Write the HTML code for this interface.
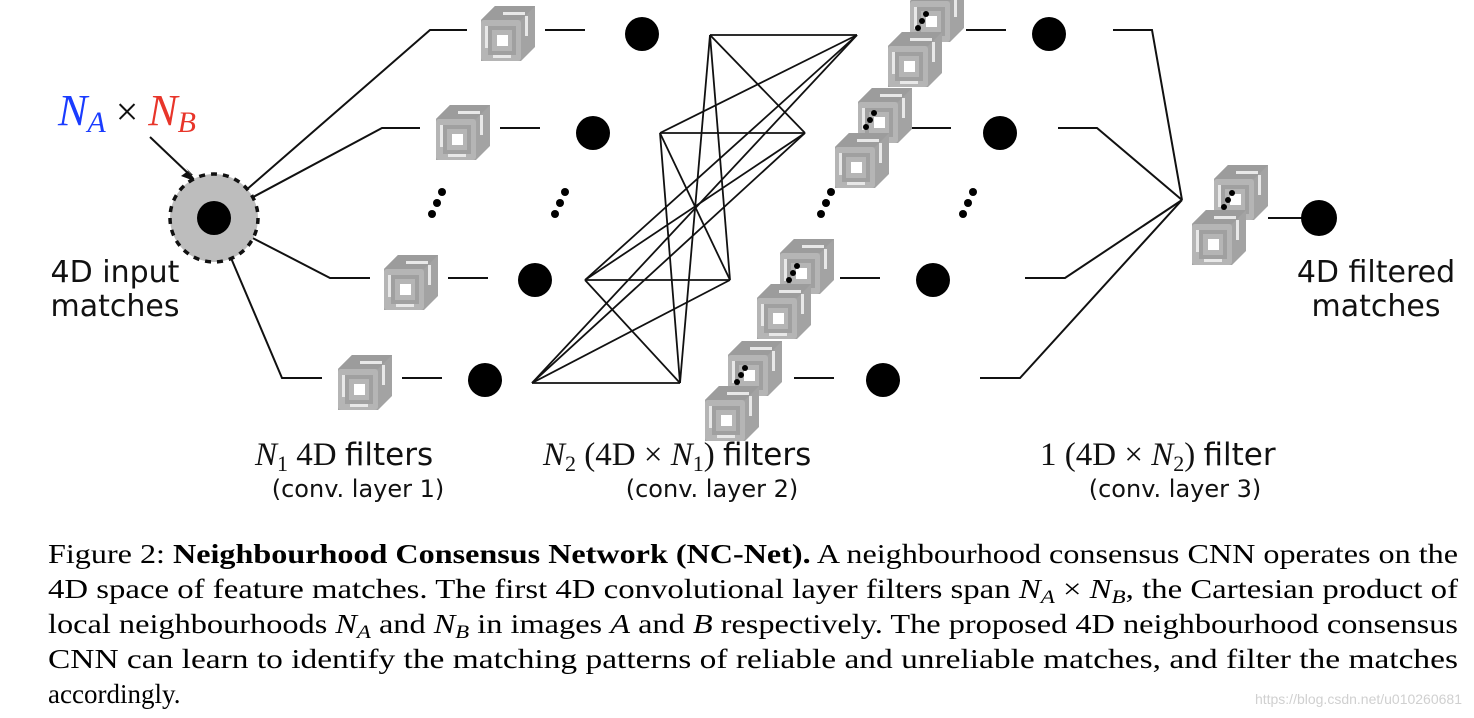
<!DOCTYPE html>
<html><head><meta charset="utf-8"><style>
html,body{margin:0;padding:0;background:#fff;}
svg{display:block}
</style></head><body>
<svg width="1474" height="718" viewBox="0 0 1474 718" xmlns="http://www.w3.org/2000/svg">
<defs>
<g id="cube">
  <polygon points="0,14 14,0 54,0 54,41 40,55 0,55" fill="#a3a3a3"/>
  <polygon points="0,14 14,0 54,0 40,14" fill="#9c9c9c"/>
  <rect x="0" y="14" width="40" height="41" rx="3" fill="#b5b5b5"/>
  <rect x="9" y="22" width="24" height="25" fill="none" stroke="#a0a0a0" stroke-width="4"/>
  <rect x="16" y="29" width="11" height="11" fill="#fff"/>
  <rect x="22" y="6" width="22" height="3" fill="#e8e8e8"/>
  <rect x="44" y="10" width="3" height="20" fill="#e8e8e8"/>
  <rect x="12" y="49" width="18" height="3" fill="#e8e8e8"/>
  <rect x="4" y="20" width="3" height="22" fill="#e8e8e8"/>
</g>
<g id="vd"><circle cx="5" cy="-11" r="4"/><circle cx="0" cy="0" r="4"/><circle cx="-5" cy="11" r="4"/></g>
<g id="sd"><circle cx="4" cy="-7" r="3"/><circle cx="0" cy="0" r="3"/><circle cx="-4" cy="7" r="3"/></g>
</defs>

<g stroke="#111" stroke-width="2" fill="none">
  <polyline points="214,218 430,30 467,30"/>
  <polyline points="214,218 382,128 420,128"/>
  <polyline points="214,218 330,278 370,278"/>
  <polyline points="214,218 282,378 322,378"/>
  <line x1="545" y1="30" x2="585" y2="30"/>
  <line x1="500" y1="128" x2="540" y2="128"/>
  <line x1="448" y1="278" x2="488" y2="278"/>
  <line x1="402" y1="378" x2="442" y2="378"/>
  <g stroke-width="1.8">
    <line x1="710" y1="35" x2="857" y2="35"/><line x1="710" y1="35" x2="805" y2="133"/><line x1="710" y1="35" x2="730" y2="280"/><line x1="710" y1="35" x2="680" y2="383"/>
    <line x1="660" y1="133" x2="857" y2="35"/><line x1="660" y1="133" x2="805" y2="133"/><line x1="660" y1="133" x2="730" y2="280"/><line x1="660" y1="133" x2="680" y2="383"/>
    <line x1="585" y1="280" x2="857" y2="35"/><line x1="585" y1="280" x2="805" y2="133"/><line x1="585" y1="280" x2="730" y2="280"/><line x1="585" y1="280" x2="680" y2="383"/>
    <line x1="532" y1="383" x2="857" y2="35"/><line x1="532" y1="383" x2="805" y2="133"/><line x1="532" y1="383" x2="730" y2="280"/><line x1="532" y1="383" x2="680" y2="383"/>
  </g>
  <line x1="966" y1="30" x2="1006" y2="30"/>
  <line x1="912" y1="128" x2="951" y2="128"/>
  <line x1="840" y1="278" x2="880" y2="278"/>
  <line x1="794" y1="378" x2="834" y2="378"/>
  <polyline points="1113,30 1152,30 1182,200"/>
  <polyline points="1058,128 1097,128 1182,200"/>
  <polyline points="1025,278 1065,278 1182,200"/>
  <polyline points="980,378 1020,378 1182,200"/>
  <line x1="1268" y1="218" x2="1305" y2="218"/>
  <line x1="150" y1="137" x2="191" y2="176"/>
</g>
<polygon points="197,182 181,176 188,171" fill="#111"/>
<polygon points="197,182 186,168 193,175 182,176" fill="#111"/>

<circle cx="214" cy="218" r="44" fill="#bdbdbd" stroke="#111" stroke-width="3.5" stroke-dasharray="6,6"/>
<circle cx="214" cy="218" r="17" fill="#000"/>

<use href="#cube" x="481" y="6"/>
<use href="#cube" x="436" y="105"/>
<use href="#cube" x="384" y="255"/>
<use href="#cube" x="338" y="355"/>
<g fill="#000">
<circle cx="642" cy="34" r="17"/><circle cx="593" cy="133" r="17"/><circle cx="535" cy="280" r="17"/><circle cx="485" cy="380" r="17"/>
<circle cx="1049" cy="34" r="17"/><circle cx="1000" cy="133" r="17"/><circle cx="933" cy="280" r="17"/><circle cx="883" cy="380" r="17"/>
<circle cx="1319" cy="218" r="18"/>
</g>
<use href="#cube" x="910" y="-13"/><use href="#cube" x="888" y="32"/>
<use href="#sd" x="922" y="21"/>
<use href="#cube" x="858" y="88"/><use href="#cube" x="835" y="133"/>
<use href="#sd" x="870" y="120"/>
<use href="#cube" x="780" y="239"/><use href="#cube" x="757" y="284"/>
<use href="#sd" x="793" y="273"/>
<use href="#cube" x="728" y="341"/><use href="#cube" x="705" y="386"/>
<use href="#sd" x="741" y="375"/>
<use href="#cube" x="1214" y="165"/><use href="#cube" x="1192" y="210"/>
<use href="#sd" x="1228" y="200"/>

<g fill="#000">
<use href="#vd" x="437" y="203"/><use href="#vd" x="560" y="203"/><use href="#vd" x="826" y="203"/><use href="#vd" x="968" y="203"/>
</g>

<g font-family="'DejaVu Sans', 'Liberation Sans', sans-serif" fill="#111">
<text x="115" y="282" font-size="30" text-anchor="middle">4D input</text>
<text x="115" y="316" font-size="30" text-anchor="middle">matches</text>
<text x="1376" y="282" font-size="30" text-anchor="middle">4D filtered</text>
<text x="1376" y="316" font-size="30" text-anchor="middle">matches</text>
<text x="358" y="497" font-size="24" text-anchor="middle">(conv. layer 1)</text>
<text x="712" y="497" font-size="24" text-anchor="middle">(conv. layer 2)</text>
<text x="1175" y="497" font-size="24" text-anchor="middle">(conv. layer 3)</text>
</g>
<g font-family="'Liberation Serif', serif" fill="#111" font-size="33">
<text x="58" y="125"><tspan fill="#1a3cff" font-style="italic" font-size="44">N</tspan><tspan fill="#1a3cff" font-style="italic" font-size="30" dy="7">A</tspan><tspan dy="-7" font-size="40"> × </tspan><tspan fill="#e8352a" font-style="italic" font-size="44">N</tspan><tspan fill="#e8352a" font-style="italic" font-size="30" dy="7">B</tspan></text>
<text x="255" y="465"><tspan font-style="italic">N</tspan><tspan font-size="22" dy="6">1</tspan><tspan dy="-6"> 4D </tspan><tspan font-family="'DejaVu Sans',sans-serif" font-size="31">filters</tspan></text>
<text x="543" y="465"><tspan font-style="italic">N</tspan><tspan font-size="22" dy="6">2</tspan><tspan dy="-6"> (4D × </tspan><tspan font-style="italic">N</tspan><tspan font-size="22" dy="6">1</tspan><tspan dy="-6">) </tspan><tspan font-family="'DejaVu Sans',sans-serif" font-size="31">filters</tspan></text>
<text x="1040" y="465">1 (4D × <tspan font-style="italic">N</tspan><tspan font-size="22" dy="6">2</tspan><tspan dy="-6">) </tspan><tspan font-family="'DejaVu Sans',sans-serif" font-size="31">filter</tspan></text>
</g>

<g font-family="'Liberation Serif', serif" font-size="27" fill="#000">
<text x="48" y="563" textLength="1410" lengthAdjust="spacingAndGlyphs">Figure 2: <tspan font-weight="bold">Neighbourhood Consensus Network (NC-Net).</tspan> A neighbourhood consensus CNN operates on the</text>
<text x="48" y="598" textLength="1410" lengthAdjust="spacingAndGlyphs">4D space of feature matches. The first 4D convolutional layer filters span <tspan font-style="italic">N</tspan><tspan font-style="italic" font-size="19" dy="5">A</tspan><tspan dy="-5"> × </tspan><tspan font-style="italic">N</tspan><tspan font-style="italic" font-size="19" dy="5">B</tspan><tspan dy="-5">, the Cartesian product of</tspan></text>
<text x="48" y="633" textLength="1410" lengthAdjust="spacingAndGlyphs">local neighbourhoods <tspan font-style="italic">N</tspan><tspan font-style="italic" font-size="19" dy="5">A</tspan><tspan dy="-5"> and </tspan><tspan font-style="italic">N</tspan><tspan font-style="italic" font-size="19" dy="5">B</tspan><tspan dy="-5"> in images </tspan><tspan font-style="italic">A</tspan> and <tspan font-style="italic">B</tspan> respectively. The proposed 4D neighbourhood consensus</text>
<text x="48" y="668" textLength="1410" lengthAdjust="spacingAndGlyphs">CNN can learn to identify the matching patterns of reliable and unreliable matches, and filter the matches</text>
<text x="48" y="703">accordingly.</text>
</g>
<text x="1462" y="704" text-anchor="end" font-family="'Liberation Sans',sans-serif" font-size="14" fill="#d0d0d0">https://blog.csdn.net/u010260681</text>
</svg>
</body></html>
